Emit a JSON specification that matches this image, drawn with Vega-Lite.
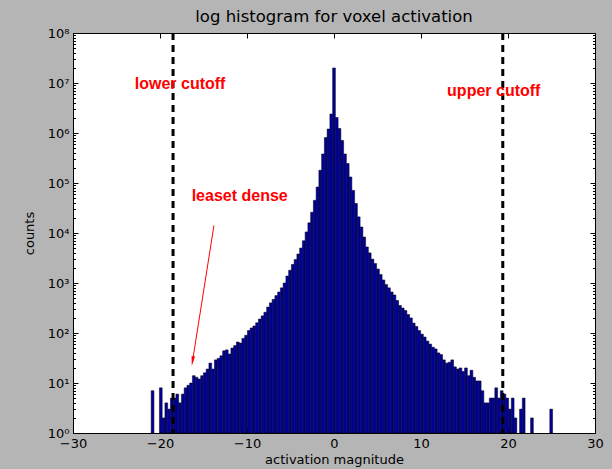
{
  "$schema": "https://vega.github.io/schema/vega-lite/v6.json",
  "width": 522,
  "height": 400,
  "autosize": {"type": "none"},
  "padding": {"left": 73, "top": 33, "right": 17, "bottom": 36},
  "background": "#b5b5b5",
  "title": {"text": "log histogram for voxel activation", "font": "DejaVu Sans", "fontSize": 16.5, "fontWeight": "normal", "color": "#000000", "anchor": "middle", "offset": 2},
  "config": {
    "view": {"fill": "#ffffff", "stroke": "#000000", "strokeWidth": 1},
    "axis": {"domain": false, "grid": false, "tickColor": "#000000", "tickWidth": 1, "labelFont": "DejaVu Sans", "labelFontSize": 13, "labelColor": "#000000", "titleFont": "DejaVu Sans", "titleFontSize": 13, "titleFontWeight": "normal", "titleColor": "#000000", "labelFlush": false, "labelOverlap": false}
  },
  "datasets": {
    "bins": [
      {"x0": -21.014, "x1": -20.698, "count": 7},
      {"x0": -20.066, "x1": -19.75, "count": 8},
      {"x0": -19.75, "x1": -19.434, "count": 2},
      {"x0": -19.434, "x1": -19.118, "count": 4},
      {"x0": -19.118, "x1": -18.802, "count": 3},
      {"x0": -18.802, "x1": -18.486, "count": 5},
      {"x0": -18.486, "x1": -18.17, "count": 5},
      {"x0": -18.17, "x1": -17.854, "count": 6},
      {"x0": -17.854, "x1": -17.538, "count": 4},
      {"x0": -17.538, "x1": -17.222, "count": 6},
      {"x0": -17.222, "x1": -16.906, "count": 8},
      {"x0": -16.906, "x1": -16.59, "count": 9},
      {"x0": -16.59, "x1": -16.274, "count": 10},
      {"x0": -16.274, "x1": -15.958, "count": 14},
      {"x0": -15.958, "x1": -15.642, "count": 13},
      {"x0": -15.642, "x1": -15.326, "count": 12},
      {"x0": -15.326, "x1": -15.01, "count": 14},
      {"x0": -15.01, "x1": -14.694, "count": 16},
      {"x0": -14.694, "x1": -14.378, "count": 19},
      {"x0": -14.378, "x1": -14.062, "count": 25},
      {"x0": -14.062, "x1": -13.746, "count": 19},
      {"x0": -13.746, "x1": -13.43, "count": 29},
      {"x0": -13.43, "x1": -13.114, "count": 31},
      {"x0": -13.114, "x1": -12.798, "count": 35},
      {"x0": -12.798, "x1": -12.482, "count": 44},
      {"x0": -12.482, "x1": -12.166, "count": 46},
      {"x0": -12.166, "x1": -11.85, "count": 38},
      {"x0": -11.85, "x1": -11.534, "count": 50},
      {"x0": -11.534, "x1": -11.218, "count": 56},
      {"x0": -11.218, "x1": -10.902, "count": 66},
      {"x0": -10.902, "x1": -10.586, "count": 63},
      {"x0": -10.586, "x1": -10.27, "count": 78},
      {"x0": -10.27, "x1": -9.954, "count": 90},
      {"x0": -9.954, "x1": -9.638, "count": 112},
      {"x0": -9.638, "x1": -9.322, "count": 126},
      {"x0": -9.322, "x1": -9.006, "count": 138},
      {"x0": -9.006, "x1": -8.69, "count": 160},
      {"x0": -8.69, "x1": -8.374, "count": 190},
      {"x0": -8.374, "x1": -8.058, "count": 220},
      {"x0": -8.058, "x1": -7.742, "count": 260},
      {"x0": -7.742, "x1": -7.426, "count": 330},
      {"x0": -7.426, "x1": -7.11, "count": 400},
      {"x0": -7.11, "x1": -6.794, "count": 470},
      {"x0": -6.794, "x1": -6.478, "count": 560},
      {"x0": -6.478, "x1": -6.162, "count": 660},
      {"x0": -6.162, "x1": -5.846, "count": 800},
      {"x0": -5.846, "x1": -5.53, "count": 1000},
      {"x0": -5.53, "x1": -5.214, "count": 1380},
      {"x0": -5.214, "x1": -4.898, "count": 1800},
      {"x0": -4.898, "x1": -4.582, "count": 2350},
      {"x0": -4.582, "x1": -4.266, "count": 2950},
      {"x0": -4.266, "x1": -3.95, "count": 3800},
      {"x0": -3.95, "x1": -3.634, "count": 5000},
      {"x0": -3.634, "x1": -3.318, "count": 7000},
      {"x0": -3.318, "x1": -3.002, "count": 10500},
      {"x0": -3.002, "x1": -2.686, "count": 16000},
      {"x0": -2.686, "x1": -2.37, "count": 26000},
      {"x0": -2.37, "x1": -2.054, "count": 45000},
      {"x0": -2.054, "x1": -1.738, "count": 83000},
      {"x0": -1.738, "x1": -1.422, "count": 180000},
      {"x0": -1.422, "x1": -1.106, "count": 380000},
      {"x0": -1.106, "x1": -0.79, "count": 810000},
      {"x0": -0.79, "x1": -0.474, "count": 1200000},
      {"x0": -0.474, "x1": -0.158, "count": 2400000},
      {"x0": -0.158, "x1": 0.158, "count": 20000000},
      {"x0": 0.158, "x1": 0.474, "count": 2040000},
      {"x0": 0.474, "x1": 0.79, "count": 1230000},
      {"x0": 0.79, "x1": 1.106, "count": 708000},
      {"x0": 1.106, "x1": 1.422, "count": 380000},
      {"x0": 1.422, "x1": 1.738, "count": 245000},
      {"x0": 1.738, "x1": 2.054, "count": 132000},
      {"x0": 2.054, "x1": 2.37, "count": 71000},
      {"x0": 2.37, "x1": 2.686, "count": 39000},
      {"x0": 2.686, "x1": 3.002, "count": 21000},
      {"x0": 3.002, "x1": 3.318, "count": 13200},
      {"x0": 3.318, "x1": 3.634, "count": 8300},
      {"x0": 3.634, "x1": 3.95, "count": 5250},
      {"x0": 3.95, "x1": 4.266, "count": 4000},
      {"x0": 4.266, "x1": 4.582, "count": 3000},
      {"x0": 4.582, "x1": 4.898, "count": 2450},
      {"x0": 4.898, "x1": 5.214, "count": 1900},
      {"x0": 5.214, "x1": 5.53, "count": 1480},
      {"x0": 5.53, "x1": 5.846, "count": 1150},
      {"x0": 5.846, "x1": 6.162, "count": 930},
      {"x0": 6.162, "x1": 6.478, "count": 800},
      {"x0": 6.478, "x1": 6.794, "count": 660},
      {"x0": 6.794, "x1": 7.11, "count": 575},
      {"x0": 7.11, "x1": 7.426, "count": 447},
      {"x0": 7.426, "x1": 7.742, "count": 355},
      {"x0": 7.742, "x1": 8.058, "count": 316},
      {"x0": 8.058, "x1": 8.374, "count": 282},
      {"x0": 8.374, "x1": 8.69, "count": 234},
      {"x0": 8.69, "x1": 9.006, "count": 200},
      {"x0": 9.006, "x1": 9.322, "count": 158},
      {"x0": 9.322, "x1": 9.638, "count": 135},
      {"x0": 9.638, "x1": 9.954, "count": 112},
      {"x0": 9.954, "x1": 10.27, "count": 95},
      {"x0": 10.27, "x1": 10.586, "count": 83},
      {"x0": 10.586, "x1": 10.902, "count": 69},
      {"x0": 10.902, "x1": 11.218, "count": 60},
      {"x0": 11.218, "x1": 11.534, "count": 52},
      {"x0": 11.534, "x1": 11.85, "count": 48},
      {"x0": 11.85, "x1": 12.166, "count": 40},
      {"x0": 12.166, "x1": 12.482, "count": 37},
      {"x0": 12.482, "x1": 12.798, "count": 29},
      {"x0": 12.798, "x1": 13.114, "count": 25},
      {"x0": 13.114, "x1": 13.43, "count": 26},
      {"x0": 13.43, "x1": 13.746, "count": 29},
      {"x0": 13.746, "x1": 14.062, "count": 21},
      {"x0": 14.062, "x1": 14.378, "count": 19},
      {"x0": 14.378, "x1": 14.694, "count": 20},
      {"x0": 14.694, "x1": 15.01, "count": 17},
      {"x0": 15.01, "x1": 15.326, "count": 20},
      {"x0": 15.326, "x1": 15.642, "count": 14},
      {"x0": 15.642, "x1": 15.958, "count": 18},
      {"x0": 15.958, "x1": 16.274, "count": 13},
      {"x0": 16.274, "x1": 16.59, "count": 11},
      {"x0": 16.59, "x1": 16.906, "count": 11},
      {"x0": 16.906, "x1": 17.222, "count": 7},
      {"x0": 17.222, "x1": 17.538, "count": 4},
      {"x0": 17.538, "x1": 17.854, "count": 4},
      {"x0": 17.854, "x1": 18.17, "count": 5},
      {"x0": 18.17, "x1": 18.486, "count": 5},
      {"x0": 18.486, "x1": 18.802, "count": 8},
      {"x0": 18.802, "x1": 19.118, "count": 5},
      {"x0": 19.118, "x1": 19.434, "count": 7},
      {"x0": 19.434, "x1": 19.75, "count": 6},
      {"x0": 19.75, "x1": 20.066, "count": 5},
      {"x0": 20.066, "x1": 20.382, "count": 3},
      {"x0": 20.382, "x1": 20.698, "count": 5},
      {"x0": 20.698, "x1": 21.014, "count": 2},
      {"x0": 21.33, "x1": 21.646, "count": 3},
      {"x0": 21.646, "x1": 21.962, "count": 5},
      {"x0": 22.594, "x1": 22.91, "count": 2},
      {"x0": 24.806, "x1": 25.122, "count": 3}
    ],
    "cutoffs": [{"cut": -18.5}, {"cut": 19.4}],
    "notes": [
      {"tx": -22.9, "ty": 9700000, "label": "lower cutoff"},
      {"tx": 13.0, "ty": 7000000, "label": "upper cutoff"},
      {"tx": -16.36, "ty": 56000, "label": "leaset dense"}
    ],
    "arrow": [{"ax": -13.8, "ay": 14100, "bx": -16.26, "by": 27.4}]
  },
  "resolve": {"axis": {"x": "independent", "y": "independent"}},
  "layer": [
    {
      "data": {"name": "bins"},
      "mark": {"type": "rect", "fill": "#0000a0", "stroke": "#000000", "strokeWidth": 0.5},
      "encoding": {
        "x": {"field": "x0", "type": "quantitative", "scale": {"domain": [-30, 30], "nice": false, "zero": false},
          "axis": {"orient": "bottom", "values": [-30, -20, -10, 0, 10, 20, 30], "tickSize": -5, "labelPadding": 9, "title": "activation magnitude", "titlePadding": 3}},
        "x2": {"field": "x1"},
        "y": {"field": "count", "type": "quantitative", "scale": {"type": "log", "domain": [1, 100000000], "nice": false},
          "axis": {"orient": "left", "values": [1, 10, 100, 1000, 10000, 100000, 1000000, 10000000, 100000000], "tickSize": -5, "labelPadding": 9, "labelExpr": "'10' + ['⁰','¹','²','³','⁴','⁵','⁶','⁷','⁸'][round(log(datum.value)/LN10)]", "title": "counts", "titlePadding": 11}},
        "y2": {"datum": 1}
      }
    },
    {
      "data": {"name": "cutoffs"},
      "mark": {"type": "rule", "color": "#000000", "strokeWidth": 3, "strokeDash": [7, 5]},
      "encoding": {
        "x": {"field": "cut", "type": "quantitative",
          "axis": {"orient": "top", "values": [-30, -20, -10, 0, 10, 20, 30], "tickSize": -5, "labels": false, "title": null}}
      }
    },
    {
      "data": {"name": "notes"},
      "mark": {"type": "text", "color": "#ff0000", "font": "Liberation Sans", "fontSize": 16, "fontWeight": "bold", "align": "left", "baseline": "middle"},
      "encoding": {
        "x": {"field": "tx", "type": "quantitative", "axis": null},
        "y": {"field": "ty", "type": "quantitative",
          "axis": {"orient": "right", "values": [1, 10, 100, 1000, 10000, 100000, 1000000, 10000000, 100000000], "tickSize": -5, "labels": false, "title": null}},
        "text": {"field": "label"}
      }
    },
    {
      "data": {"name": "arrow"},
      "mark": {"type": "rule", "color": "#ff0000", "strokeWidth": 1},
      "encoding": {
        "x": {"field": "ax", "type": "quantitative", "axis": null},
        "x2": {"field": "bx"},
        "y": {"field": "ay", "type": "quantitative",
          "axis": {"orient": "left", "values": [2,3,4,5,6,7,8,9,20,30,40,50,60,70,80,90,200,300,400,500,600,700,800,900,2000,3000,4000,5000,6000,7000,8000,9000,20000,30000,40000,50000,60000,70000,80000,90000,200000,300000,400000,500000,600000,700000,800000,900000,2000000,3000000,4000000,5000000,6000000,7000000,8000000,9000000,20000000,30000000,40000000,50000000,60000000,70000000,80000000,90000000], "tickSize": -2.5, "labels": false, "title": null}},
        "y2": {"field": "by"}
      }
    },
    {
      "data": {"name": "arrow"},
      "mark": {"type": "point", "shape": "M-0.35,-1L0.35,-1L0,1Z", "filled": true, "color": "#ff0000", "opacity": 1, "size": 100, "angle": 9},
      "encoding": {
        "x": {"field": "bx", "type": "quantitative", "axis": null},
        "y": {"field": "by", "type": "quantitative",
          "axis": {"orient": "right", "values": [2,3,4,5,6,7,8,9,20,30,40,50,60,70,80,90,200,300,400,500,600,700,800,900,2000,3000,4000,5000,6000,7000,8000,9000,20000,30000,40000,50000,60000,70000,80000,90000,200000,300000,400000,500000,600000,700000,800000,900000,2000000,3000000,4000000,5000000,6000000,7000000,8000000,9000000,20000000,30000000,40000000,50000000,60000000,70000000,80000000,90000000], "tickSize": -2.5, "labels": false, "title": null}}
      }
    }
  ]
}
